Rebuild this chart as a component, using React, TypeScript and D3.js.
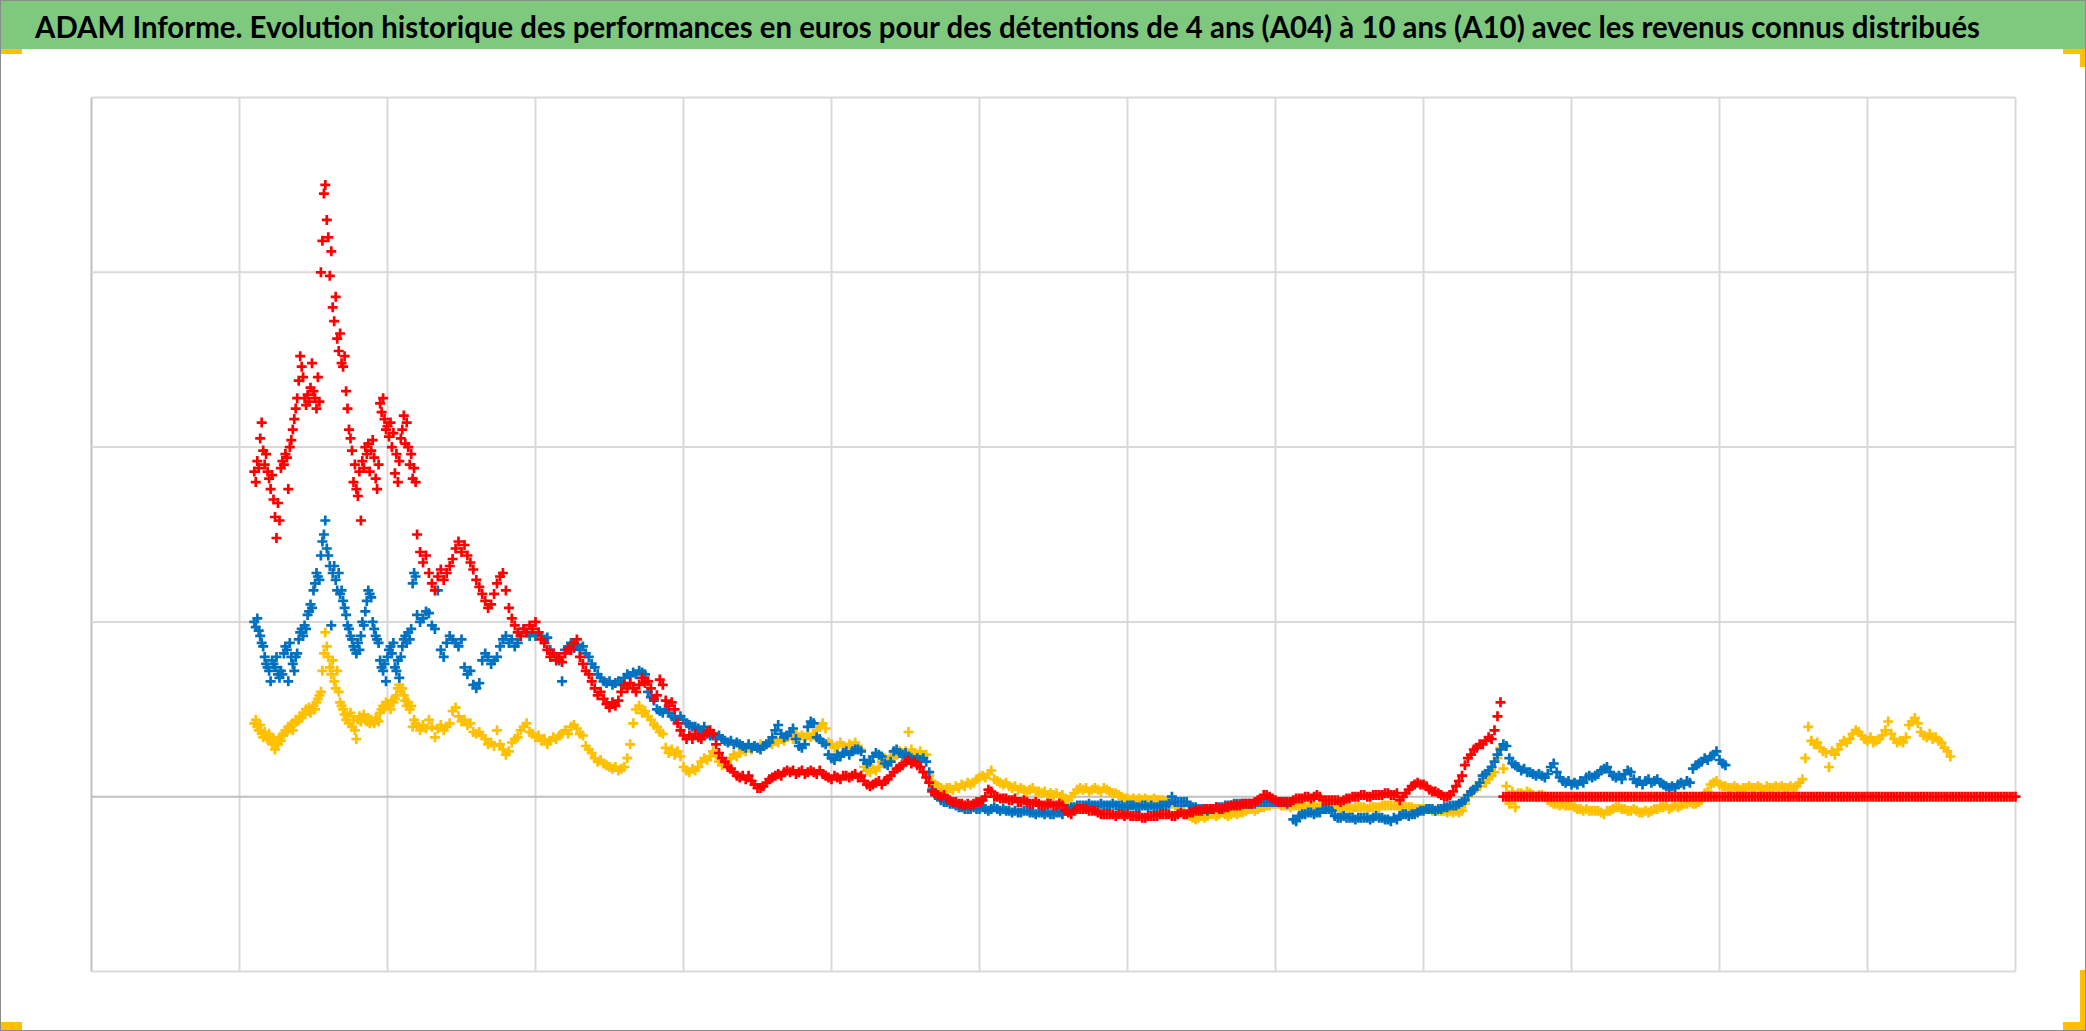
import React from 'react';
import * as d3 from 'd3';

const W = 2086;
const H = 1031;

const TITLE =
  'ADAM Informe. Evolution historique des performances en euros pour des détentions de 4 ans (A04) à 10 ans (A10) avec les revenus connus distribués';

// grid positions (the reference shows no tick labels)
const xGrid = [0, 1, 2, 3, 4, 5, 6, 7, 8, 9, 10, 11, 12, 13];
const yGrid = [-1, 0, 1, 2, 3, 4];

// time axis: early part (x 1.10 .. 2.19, step 0.01) and main part (x 2.20 .., step 0.02)
const EARLY_START = 1.1;
const EARLY_STEP = 0.01;
const MAIN_START = 2.2;
const MAIN_STEP = 0.02;

// values in hundredths of a grid unit
const redEarly = [
  186, 180, 192, 188, 205, 214, 198, 190, 196, 186,
  182, 176, 184, 170, 160, 148, 168, 158, 188, 192,
  190, 196, 194, 176, 200, 204, 210, 216, 222, 228,
  238, 252, 246, 240, 228, 224, 230, 226, 234, 248,
  232, 228, 222, 240, 226, 300, 318, 345, 350, 330,
  320, 298, 312, 280, 272, 286, 262, 255, 265, 248,
  246, 252, 232, 222, 210, 205, 198, 180, 190, 176,
  172, 186, 158, 192, 188, 200, 196, 202, 186, 198,
  204, 194, 182, 176, 190, 225, 220, 228, 216, 210,
  212, 206, 214, 200, 208, 185, 196, 180, 192, 205,
  210, 218, 202, 214, 200, 190, 196, 182, 188, 180,
];
const redMain = [
  150, 140, 134, 138, 128, 122, 118, 126, 130, 124, 128, 132, 136, 142, 146, 140, 144, 138, 134, 130,
  124, 120, 116, 112, 108, 110, 116, 122, 126, 128, 118, 108, 102, 98, 94, 92, 96, 94, 98, 96,
  100, 94, 90, 88, 84, 80, 82, 78, 80, 77, 82, 85, 84, 88, 90, 80, 76, 72, 70, 66,
  62, 58, 60, 56, 53, 51, 54, 52, 55, 60, 64, 62, 65, 62, 60, 64, 68, 65, 66, 62,
  56, 58, 67, 64, 55, 52, 54, 50, 42, 38, 35, 33, 35, 33, 36, 34, 33, 35, 37, 38,
  36, 30, 25, 22, 20, 17, 16, 14, 12, 11, 12, 10, 12, 9, 7, 5, 5, 6, 8, 10,
  11, 12, 13, 12, 14, 15, 14, 15, 13, 14, 15, 13, 14, 15, 14, 13, 15, 13, 12, 11,
  10, 12, 11, 10, 12, 12, 11, 12, 13, 11, 12, 9, 7, 6, 7, 8, 9, 7, 9, 10,
  12, 14, 16, 17, 18, 20, 21, 19, 20, 18, 17, 14, 11, 8, 3, 2, 1, 0, 1, -1,
  -2, -3, -3, -4, -4, -5, -4, -5, -4, -3, -3, -2, 0, 4, 3, 0, 0, -1, -1, -1,
  -2, -2, -1, -3, -3, -2, -3, -4, -4, -3, -4, -5, -5, -4, -4, -5, -5, -4, -5, -8,
  -9, -10, -8, -7, -7, -7, -7, -8, -8, -8, -9, -10, -10, -10, -10, -10, -11, -10, -10, -11,
  -10, -11, -11, -11, -11, -12, -12, -11, -11, -11, -11, -10, -10, -10, -10, -11, -11, -10, -9, -10,
  -10, -9, -9, -8, -8, -8, -7, -7, -7, -7, -6, -7, -7, -6, -6, -5, -5, -5, -5, -4,
  -4, -4, -4, -3, -2, -1, 1, 1, 0, -1, -2, -3, -3, -3, -3, -3, -2, -1, -1, -1,
  0, 0, -1, 0, 1, 0, -2, -2, -2, -2, -2, -2, -3, -2, -1, -1, 0, 0, 0, 1,
  1, 0, 0, 1, 1, 1, 1, 2, 2, 1, 1, 2, -2, 0, 2, 4, 6, 7, 8, 7,
  7, 6, 4, 3, 3, 2, 1, 0, 0, 1, 3, 6, 9, 12, 18, 22, 24, 27, 28, 30,
  30, 32, 34, 33, 38, 46, 54, 0, 0, 0, 0, 0, 0, 0, 0, 0, 0, 0, 0, 0,
  0, 0, 0, 0, 0, 0, 0, 0, 0, 0, 0, 0, 0, 0, 0, 0, 0, 0, 0, 0,
  0, 0, 0, 0, 0, 0, 0, 0, 0, 0, 0, 0, 0, 0, 0, 0, 0, 0, 0, 0,
  0, 0, 0, 0, 0, 0, 0, 0, 0, 0, 0, 0, 0, 0, 0, 0, 0, 0, 0, 0,
  0, 0, 0, 0, 0, 0, 0, 0, 0, 0, 0, 0, 0, 0, 0, 0, 0, 0, 0, 0,
  0, 0, 0, 0, 0, 0, 0, 0, 0, 0, 0, 0, 0, 0, 0, 0, 0, 0, 0, 0,
  0, 0, 0, 0, 0, 0, 0, 0, 0, 0, 0, 0, 0, 0, 0, 0, 0, 0, 0, 0,
  0, 0, 0, 0, 0, 0, 0, 0, 0, 0, 0, 0, 0, 0, 0, 0, 0, 0, 0, 0,
  0, 0, 0, 0, 0, 0, 0, 0, 0, 0, 0, 0, 0, 0, 0, 0, 0, 0, 0, 0,
  0,
];

const blueEarly = [
  100, 97, 102, 95, 92, 88, 86, 80, 76, 74,
  72, 66, 78, 76, 74, 80, 70, 68, 72, 70,
  82, 86, 84, 66, 88, 80, 76, 72, 80, 82,
  90, 94, 96, 92, 98, 96, 104, 106, 110, 108,
  118, 122, 128, 126, 124, 138, 146, 150, 158, 142,
  138, 132, 98, 128, 132, 124, 118, 128, 116, 118,
  112, 108, 104, 98, 96, 92, 90, 86, 84, 82,
  88, 84, 92, 100, 98, 106, 112, 118, 116, 114,
  100, 96, 92, 90, 88, 78, 74, 72, 76, 66,
  80, 84, 86, 82, 88, 74, 72, 78, 68, 80,
  86, 90, 92, 88, 94, 90, 96, 122, 128, 126,
];
const blueMain = [
  104, 100, 102, 106, 105, 98, 96, 118, 84, 80, 88, 92, 90, 88, 86, 90, 74, 70, 72, 64,
  62, 65, 78, 82, 80, 76, 78, 80, 86, 90, 92, 88, 90, 86, 88, 92, 96, 94, 92, 94,
  92, 94, 92, 90, 91, 84, 82, 80, 78, 66, 84, 86, 88, 85, 87, 84, 86, 82, 80, 76,
  74, 70, 68, 66, 65, 66, 64, 65, 66, 65, 68, 70, 69, 71, 70, 72, 71, 70, 60, 57,
  55, 50, 49, 48, 50, 48, 46, 45, 44, 46, 44, 42, 41, 40, 40, 39, 38, 40, 36, 35,
  35, 34, 35, 33, 32, 31, 32, 30, 31, 30, 29, 28, 30, 28, 29, 28, 27, 29, 30, 31,
  34, 38, 41, 36, 34, 35, 37, 39, 33, 29, 28, 30, 40, 43, 42, 34, 33, 31, 30, 24,
  22, 21, 24, 23, 25, 26, 24, 26, 27, 27, 26, 21, 19, 20, 23, 25, 24, 23, 19, 18,
  20, 26, 27, 25, 24, 25, 23, 22, 21, 22, 21, 22, 20, 14, 4, 1, 0, -2, -3, -3,
  -4, -4, -5, -6, -6, -7, -7, -7, -6, -7, -7, -6, -7, -8, -7, -6, -7, -8, -7, -8,
  -8, -9, -8, -9, -9, -8, -8, -9, -9, -10, -9, -9, -10, -9, -10, -10, -9, -9, -10, -8,
  -7, -6, -6, -5, -5, -5, -5, -4, -5, -5, -5, -4, -5, -5, -5, -4, -5, -5, -5, -6,
  -5, -5, -5, -6, -6, -5, -5, -6, -5, -6, -6, -5, -5, -5, -4, 0, -3, -3, -3, -3,
  -3, -5, -6, -6, -7, -7, -7, -8, -7, -7, -6, -6, -6, -5, -5, -5, -4, -4, -4, -4,
  -4, -4, -4, -4, -3, -3, -3, -3, -3, -3, -3, -3, -3, -3, -4, -3, -13, -14, -11, -10,
  -10, -9, -9, -10, -9, -9, -7, -7, -7, -8, -11, -12, -12, -11, -12, -12, -12, -13, -12, -12,
  -12, -12, -13, -12, -11, -12, -12, -13, -13, -14, -12, -13, -11, -10, -10, -11, -10, -10, -9, -8,
  -8, -7, -7, -7, -8, -7, -7, -6, -6, -5, -5, -5, -4, -3, -2, 1, 3, 4, 6, 8,
  12, 13, 15, 17, 20, 24, 27, 30, 29, 22, 19, 18, 17, 15, 16, 14, 14, 13, 12, 13,
  12, 11, 13, 17, 19, 14, 11, 9, 8, 9, 7, 8, 7, 9, 8, 11, 12, 11, 12, 13,
  15, 16, 17, 14, 12, 11, 12, 10, 13, 15, 14, 10, 8, 9, 7, 9, 10, 8, 9, 10,
  8, 7, 6, 5, 6, 5, 7, 8, 7, 9, 8, 16, 18, 19, 20, 22, 21, 23, 24, 26,
  21, 19, 18,
];

const yellowEarly = [
  42, 44, 40, 38, 41, 36, 34, 37, 35, 33,
  36, 32, 30, 33, 27, 31, 30, 34, 32, 35,
  36, 38, 37, 40, 39, 41, 38, 42, 44, 43,
  44, 46, 45, 48, 47, 50, 49, 51, 48, 50,
  52, 50, 54, 56, 58, 60, 72, 82, 94, 86,
  80, 74, 70, 78, 66, 62, 72, 60, 54, 52,
  50, 47, 44, 46, 42, 48, 40, 44, 38, 33,
  44, 46, 43, 45, 47, 44, 43, 45, 42, 44,
  43, 42, 45, 44, 43, 48, 50, 52, 51, 54,
  52, 53, 50, 55, 54, 56, 58, 62, 64, 60,
  62, 58, 55, 52, 54, 50, 52, 40, 44, 42,
];
const yellowMain = [
  40, 38, 41, 39, 44, 40, 34, 39, 41, 38, 40, 42, 49, 51, 46, 43, 44, 41, 42, 37,
  36, 37, 35, 33, 30, 31, 29, 38, 30, 27, 24, 26, 31, 33, 34, 38, 40, 42, 37, 36,
  34, 35, 32, 33, 30, 32, 34, 33, 35, 36, 38, 36, 40, 41, 39, 36, 35, 29, 27, 25,
  22, 20, 21, 19, 18, 17, 16, 17, 15, 16, 17, 22, 30, 42, 50, 52, 48, 49, 46, 44,
  41, 40, 37, 36, 28, 25, 27, 24, 26, 23, 17, 15, 14, 16, 15, 17, 20, 22, 21, 23,
  26, 24, 20, 18, 19, 17, 22, 24, 23, 25, 27, 26, 28, 27, 29, 28, 30, 29, 30, 31,
  30, 32, 31, 33, 32, 34, 35, 33, 36, 34, 35, 33, 36, 34, 35, 38, 40, 42, 39, 31,
  30, 28, 29, 31, 29, 28, 30, 29, 31, 28, 27, 17, 15, 14, 16, 15, 17, 20, 22, 21,
  23, 22, 24, 26, 25, 26, 37, 27, 25, 24, 26, 23, 24, 12, 8, 7, 6, 5, 4, 5,
  5, 4, 6, 5, 7, 6, 8, 7, 8, 10, 11, 12, 11, 13, 15, 10, 9, 8, 7, 8,
  6, 5, 6, 4, 5, 4, 3, 4, 5, 3, 3, 2, 3, 1, 2, 1, 2, 0, 1, -2,
  -2, 0, 2, 4, 5, 4, 5, 3, 4, 5, 4, 3, 5, 4, 3, 2, 2, 1, 0, -1,
  -1, -2, -1, -2, -1, -2, -1, -2, -2, -1, -2, -2, -2, -3, -2, -4, -5, -5, -6, -8,
  -10, -11, -12, -13, -12, -11, -12, -11, -10, -10, -11, -10, -9, -10, -11, -10, -9, -10, -9, -9,
  -8, -7, -7, -8, -7, -6, -6, -5, -5, -4, -4, -4, -5, -5, -5, -6, -5, -5, -6, -5,
  -5, -6, -6, -5, -6, -6, -6, -7, -6, -6, -6, -6, -7, -7, -6, -7, -7, -6, -6, -6,
  -6, -7, -6, -6, -6, -6, -5, -5, -5, -5, -5, -5, -6, -6, -6, -6, -6, -7, -7, -7,
  -7, -7, -7, -8, -8, -8, -8, -8, -9, -8, -9, -8, -9, -8, -4, 0, 2, 4, 5, 6,
  10, 8, 10, 12, 14, 22, 28, 16, 6, -4, 3, -6, 2, 2, 1, 3, 2, 1, 0, 1,
  1, 0, -2, -3, -4, -4, -5, -4, -5, -5, -5, -6, -7, -7, -8, -7, -8, -8, -8, -8,
  -9, -10, -8, -8, -7, -6, -6, -7, -7, -8, -8, -7, -8, -9, -9, -8, -9, -8, -7, -7,
  -6, -6, -5, -7, -6, -5, -6, -5, -4, -4, -3, -4, -4, -3, -2, 2, 3, 7, 8, 9,
  7, 6, 6, 5, 5, 6, 5, 4, 5, 5, 6, 5, 5, 6, 5, 4, 6, 5, 5, 6,
  5, 6, 5, 5, 6, 5, 6, 8, 10, 22, 40, 32, 30, 31, 28, 26, 25, 17, 26, 24,
  27, 30, 32, 31, 33, 36, 38, 37, 35, 33, 32, 34, 31, 32, 33, 35, 38, 43, 36, 33,
  31, 32, 31, 34, 41, 43, 45, 42, 37, 35, 34, 36, 33, 34, 32, 31, 28, 26, 23,
];

const series = [
  { name: 'A04', color: '#FFC000', early: yellowEarly, main: yellowMain },
  { name: 'A07', color: '#0070C0', early: blueEarly, main: blueMain },
  { name: 'A10', color: '#FF0000', early: redEarly, main: redMain },
];

const PLOT = { left: 91.5, right: 2015.5, top: 97.5, bottom: 971.5 };

export default function App() {
  const x = d3.scaleLinear().domain([0, 13]).range([PLOT.left, PLOT.right]);
  const y = d3.scaleLinear().domain([-1, 4]).range([PLOT.bottom, PLOT.top]);
  const r = 5;

  const markerPath = (s: { early: number[]; main: number[] }) => {
    const pts: [number, number][] = [];
    s.early.forEach((v, i) => pts.push([EARLY_START + i * EARLY_STEP, v / 100]));
    s.main.forEach((v, i) => pts.push([MAIN_START + i * MAIN_STEP, v / 100]));
    return pts
      .map(([a, b]) => {
        const px = x(a);
        const py = y(b);
        return `M${(px - r).toFixed(1)},${py.toFixed(1)}h${2 * r}M${px.toFixed(1)},${(py - r).toFixed(1)}v${2 * r}`;
      })
      .join('');
  };

  const gold = '#FFC000';

  return (
    <svg
      width={W}
      height={H}
      viewBox={`0 0 ${W} ${H}`}
      style={{ position: 'absolute', left: 0, top: 0, display: 'block', background: '#fff' }}
    >
      <rect x={0} y={0} width={W} height={H} fill="#ffffff" />
      {/* title band */}
      <rect x={0} y={0} width={W} height={49} fill="#7FC97F" />
      <text
        x={35}
        y={38}
        fontFamily="Lato, 'Open Sans', sans-serif"
        fontWeight={700}
        fontSize={31}
        fill="#000"
        textLength={1945}
        lengthAdjust="spacingAndGlyphs"
      >
        {TITLE}
      </text>

      {/* grid */}
      {xGrid.map((g) => (
        <line
          key={'vx' + g}
          x1={x(g)}
          x2={x(g)}
          y1={PLOT.top}
          y2={PLOT.bottom}
          stroke={g === 0 ? '#BFBFBF' : '#D9D9D9'}
          strokeWidth={2}
        />
      ))}
      {yGrid.map((g) => (
        <line
          key={'hy' + g}
          x1={PLOT.left}
          x2={PLOT.right}
          y1={y(g)}
          y2={y(g)}
          stroke={g === 0 ? '#BFBFBF' : '#D9D9D9'}
          strokeWidth={2}
        />
      ))}

      {/* series */}
      {series.map((s) => (
        <path key={s.name} d={markerPath(s)} fill="none" stroke={s.color} strokeWidth={2.7} />
      ))}

      {/* corner marks */}
      <rect x={0} y={49} width={22} height={5} fill={gold} />
      <rect x={2063} y={49} width={23} height={5} fill={gold} />
      <rect x={2080} y={49} width={6} height={18} fill={gold} />
      <rect x={0} y={1022} width={22} height={8} fill={gold} />
      <rect x={2063} y={1022} width={23} height={8} fill={gold} />
      <rect x={2080} y={970} width={6} height={60} fill={gold} />

      {/* outer border */}
      <rect x={0.5} y={0.5} width={W - 1} height={H - 1} fill="none" stroke="#8C8C8C" strokeWidth={1} />
    </svg>
  );
}
